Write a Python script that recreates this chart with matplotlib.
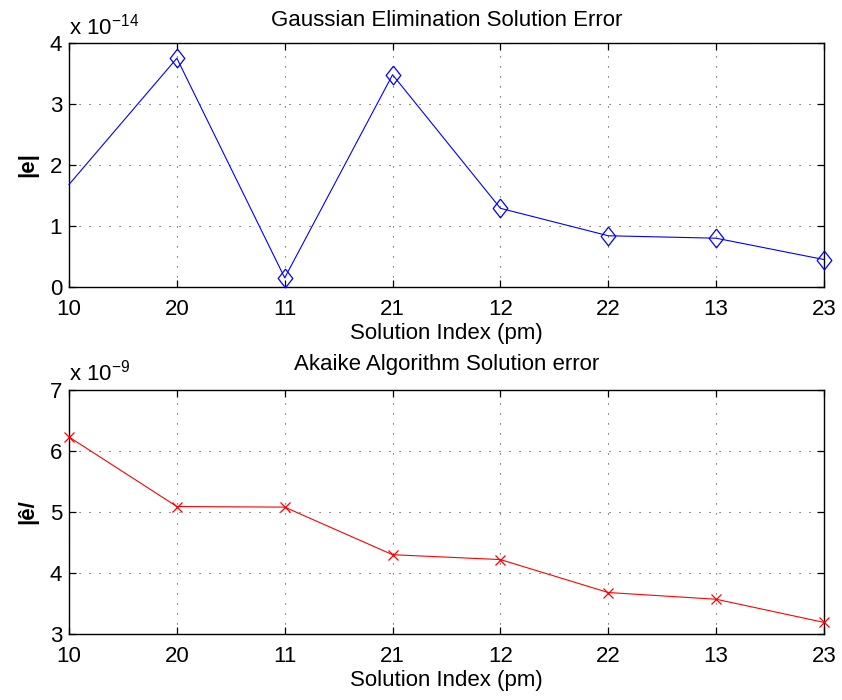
import matplotlib
matplotlib.use("Agg")
import matplotlib.pyplot as plt
import numpy as np

plt.rcParams['font.family'] = ['Liberation Sans', 'DejaVu Sans']
plt.rcParams['mathtext.fontset'] = 'custom'
plt.rcParams['mathtext.rm'] = 'Liberation Sans'
plt.rcParams['mathtext.it'] = 'Liberation Sans:italic'
plt.rcParams['mathtext.bf'] = 'Liberation Sans:bold'

tick_labels = ['10', '20', '11', '21', '12', '22', '13', '23']
gauss_err = [1.68, 3.75, 0.15, 3.48, 1.29, 0.84, 0.80, 0.45]   # x 1e-14
akaike_err = [6.23, 5.09, 5.08, 4.30, 4.22, 3.68, 3.57, 3.19]  # x 1e-9

x = np.arange(1, len(tick_labels) + 1)

fig = plt.figure(figsize=(8.42, 7.0), dpi=100)
W, H = 842, 700
ax1 = fig.add_axes([69 / W, 1 - 287 / H, (824 - 69) / W, (287 - 43) / H])
ax2 = fig.add_axes([69 / W, 1 - 634 / H, (824 - 69) / W, (634 - 390) / H])
AXH = 287 - 43

fs = 16
diamond = [(0, 1), (0.78, 0), (0, -1), (-0.78, 0), (0, 1)]

ax1.plot(x, gauss_err, color='blue', lw=0.8, marker=diamond, markersize=13.5,
         markerfacecolor='none', markeredgecolor='blue', markeredgewidth=0.9,
         markevery=list(range(1, len(x))), clip_on=False, zorder=3)
ax1.set_ylim(0, 4)
ax1.set_yticks([0, 1, 2, 3, 4])
ax1.set_title('Gaussian Elimination Solution Error', fontsize=fs, pad=12)
ax1.set_ylabel('|e|', fontsize=fs, fontweight='bold', labelpad=8.5)
ax1.text(0, 1 + 9 / AXH, r'x 10$^{-14}$', transform=ax1.transAxes, fontsize=fs,
         ha='left', va='baseline')

ax2.plot(x, akaike_err, color='red', lw=0.8, marker='x', markersize=7,
         markeredgewidth=0.9, clip_on=False, zorder=3)
ax2.set_ylim(3, 7)
ax2.set_yticks([3, 4, 5, 6, 7])
ax2.set_title('Akaike Algorithm Solution error', fontsize=fs, pad=14.5)
ax2.set_ylabel('|ê/', fontsize=fs, fontweight='bold', labelpad=8.5)
ax2.text(0, 1 + 10 / AXH, r'x 10$^{-9}$', transform=ax2.transAxes, fontsize=fs,
         ha='left', va='baseline')

for ax in (ax1, ax2):
    ax.set_xlim(1, len(x))
    ax.set_xticks(x)
    ax.set_xticklabels(tick_labels)
    ax.set_xlabel('Solution Index (pm)', fontsize=fs, labelpad=2)
    ax.tick_params(direction='in', top=True, right=True, labelsize=fs,
                   length=5, width=0.9)
    ax.tick_params(axis='x', pad=9)
    ax.tick_params(axis='y', pad=5)
    ax.grid(True, color='black', linestyle=(0, (1, 8)), linewidth=0.8, alpha=0.75)
    for s in ax.spines.values():
        s.set_linewidth(1.0)

fig.savefig('out.png', dpi=100)
